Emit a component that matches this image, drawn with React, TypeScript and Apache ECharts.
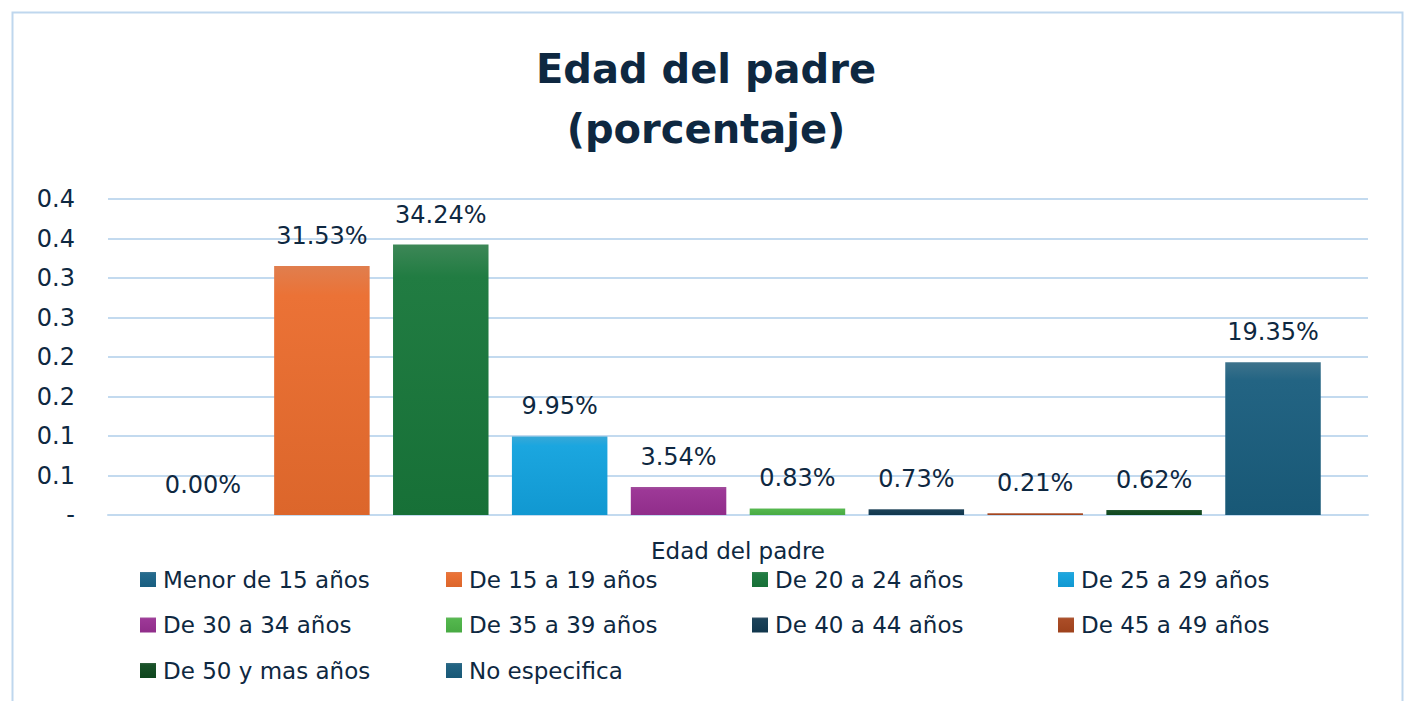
import React, { useEffect, useRef } from "react";
import * as echarts from "echarts";

const categories = ["Edad del padre"];
const seriesNames = [
  "Menor de 15 años",
  "De 15 a 19 años",
  "De 20 a 24 años",
  "De 25 a 29 años",
  "De 30 a 34 años",
  "De 35 a 39 años",
  "De 40 a 44 años",
  "De 45 a 49 años",
  "De 50 y mas años",
  "No especifica",
];
const seriesValues = [0.0, 0.3153, 0.3424, 0.0995, 0.0354, 0.0083, 0.0073, 0.0021, 0.0062, 0.1935];
const yTickLabels = ["-", "0.1", "0.1", "0.2", "0.2", "0.3", "0.3", "0.4", "0.4"];
const legendRows = [
  seriesNames.slice(0, 4),
  seriesNames.slice(4, 8),
  seriesNames.slice(8, 10),
];

const palette = [
  "#1B6488",
  "#EA6C2E",
  "#18773A",
  "#12A2DE",
  "#993093",
  "#4DB547",
  "#123A52",
  "#A8461E",
  "#0F4A1F",
  "#1A5E7E",
];

const TEXT = "#0E2841";
const GRID = "#C3DAEF";
const FONT = "DejaVu Sans";

function mix(hex: string, target: number[], t: number) {
  const n = parseInt(hex.slice(1), 16);
  const c = [(n >> 16) & 255, (n >> 8) & 255, n & 255];
  const r = c.map((v, i) => Math.round(v + (target[i] - v) * t));
  return "rgb(" + r.join(",") + ")";
}

function grad(hex: string) {
  return new echarts.graphic.LinearGradient(0, 0, 0, 1, [
    { offset: 0, color: mix(hex, [190, 190, 190], 0.22) },
    { offset: 0.12, color: mix(hex, [255, 255, 255], 0.04) },
    { offset: 1, color: mix(hex, [0, 0, 0], 0.06) },
  ]);
}

export default function App() {
  const ref = useRef<HTMLDivElement>(null);
  useEffect(() => {
    document.body.style.margin = "0";
    const chart = echarts.init(ref.current!, null, { renderer: "svg" });
    const series = seriesNames.map((name, i) => ({
      name,
      type: "bar",
      data: [seriesValues[i]],
      barGap: "24.5%",
      barCategoryGap: "7.5%",
      itemStyle: { color: grad(palette[i]) },
      label: {
        show: true,
        position: "top",
        distance: 16,
        color: TEXT,
        fontFamily: FONT,
        fontSize: 24,
        lineHeight: 28,
        formatter: (p: any) => (p.value * 100).toFixed(2) + "%",
      },
    }));
    const legends = legendRows.map((row, r) => ({
      data: row,
      orient: "horizontal",
      left: 140,
      top: 565.5 + r * 45.5,
      padding: 0,
      itemWidth: 16,
      itemHeight: 15,
      itemGap: 3,
      icon: "rect",
      textStyle: {
        color: TEXT,
        fontFamily: FONT,
        fontSize: 23,
        lineHeight: 28,
        width: 280,
        padding: [0, 0, 0, 2],
      },
    }));
    chart.setOption({
      animation: false,
      backgroundColor: "#ffffff",
      title: {
        text: "Edad del padre\n(porcentaje)",
        left: "center",
        top: 34,
        textStyle: {
          color: TEXT,
          fontFamily: FONT,
          fontWeight: "bold",
          fontSize: 40,
          lineHeight: 60,
        },
      },
      graphic: [
        {
          type: "rect",
          shape: { x: 12.5, y: 12.5, width: 1390, height: 720 },
          style: { fill: "none", stroke: "#BFD7EE", lineWidth: 2 },
          silent: true,
        },
      ],
      legend: legends,
      grid: { left: 108, right: 44, top: 199, bottom: 186 },
      xAxis: {
        type: "category",
        data: categories,
        axisTick: { show: false },
        axisLine: { show: true, lineStyle: { color: GRID, width: 2 } },
        axisLabel: {
          color: TEXT,
          fontFamily: FONT,
          fontSize: 23,
          lineHeight: 28,
          margin: 22,
        },
      },
      yAxis: {
        type: "value",
        min: 0,
        max: 0.4,
        interval: 0.05,
        axisLine: { show: false },
        axisTick: { show: false },
        splitLine: { lineStyle: { color: GRID, width: 2 } },
        axisLabel: {
          color: TEXT,
          fontFamily: FONT,
          fontSize: 24,
          margin: 33,
          formatter: (v: number) => yTickLabels[Math.round(v / 0.05)] ?? "",
        },
      },
      series,
    });
    return () => chart.dispose();
  }, []);
  return (
    <div
      ref={ref}
      style={{ position: "fixed", left: 0, top: 0, width: 1412, height: 701 }}
    />
  );
}
